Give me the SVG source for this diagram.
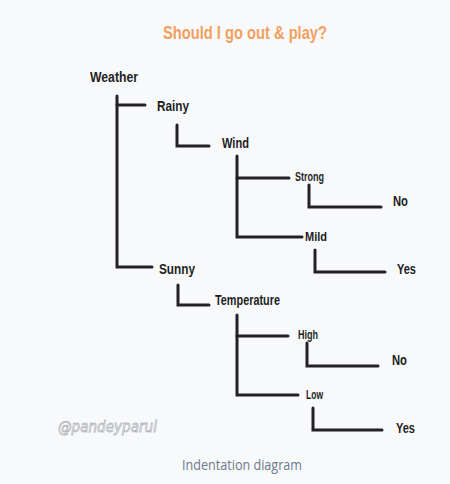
<svg xmlns="http://www.w3.org/2000/svg" width="450" height="484" viewBox="0 0 450 484">
<style>
.bg{fill:#f8f9fb}
.t{font-family:"Liberation Sans","DejaVu Sans",sans-serif;font-weight:bold;fill:#1e1e22;font-size:15px}
.s{font-size:12.5px}
.c path{fill:none;stroke:#222226;stroke-width:3;stroke-linecap:round;stroke-linejoin:miter}
.title{font-family:"Liberation Sans","DejaVu Sans",sans-serif;font-weight:bold;fill:#f2a05e;font-size:19px}
.wm{font-family:"DejaVu Sans","Liberation Sans",sans-serif;font-style:italic;font-size:16px;fill:#eef0f2;stroke:#b4b8bc;stroke-width:0.8}
.cap{font-family:"Open Sans","Liberation Sans",sans-serif;font-size:14px;fill:#6b7a8c}
</style>
<rect class="bg" x="0" y="0" width="450" height="484"/>
<text id="title" class="title" x="245" y="39" text-anchor="middle" textLength="164" lengthAdjust="spacingAndGlyphs">Should I go out &amp; play?</text>
<g class="c" id="connectors">
<path d="M117 96 V267 H152"/>
<path d="M117 105 H145"/>
<path d="M177 125 V146 H209"/>
<path d="M237 156 V237 H302"/>
<path d="M237 178 H289"/>
<path d="M309 185 V207 H381"/>
<path d="M315 250 V272 H385"/>
<path d="M178 285 V305 H209"/>
<path d="M237 315 V395 H298"/>
<path d="M237 336 H288"/>
<path d="M307 343 V366 H378"/>
<path d="M313 408 V430 H382"/>
</g>
<g id="n-weather"><text class="t" x="90" y="82" textLength="48" lengthAdjust="spacingAndGlyphs">Weather</text></g>
<g id="n-rainy"><text class="t" x="157" y="111" textLength="32" lengthAdjust="spacingAndGlyphs">Rainy</text></g>
<g id="n-wind"><text class="t" x="222" y="148" textLength="27" lengthAdjust="spacingAndGlyphs">Wind</text></g>
<g id="n-strong"><text class="t s" x="295" y="181" textLength="29" lengthAdjust="spacingAndGlyphs">Strong</text></g>
<g id="n-no1"><text class="t" x="393" y="206" textLength="15" lengthAdjust="spacingAndGlyphs">No</text></g>
<g id="n-mild"><text class="t s" x="305" y="241" textLength="22" lengthAdjust="spacingAndGlyphs">Mild</text></g>
<g id="n-yes1"><text class="t" x="397" y="274" textLength="19" lengthAdjust="spacingAndGlyphs">Yes</text></g>
<g id="n-sunny"><text class="t" x="159" y="274" textLength="36" lengthAdjust="spacingAndGlyphs">Sunny</text></g>
<g id="n-temperature"><text class="t" x="215" y="305" textLength="65" lengthAdjust="spacingAndGlyphs">Temperature</text></g>
<g id="n-high"><text class="t s" x="298" y="339" textLength="20" lengthAdjust="spacingAndGlyphs">High</text></g>
<g id="n-no2"><text class="t" x="392" y="365" textLength="15" lengthAdjust="spacingAndGlyphs">No</text></g>
<g id="n-low"><text class="t s" x="306" y="399" textLength="17" lengthAdjust="spacingAndGlyphs">Low</text></g>
<g id="n-yes2"><text class="t" x="396" y="433" textLength="19" lengthAdjust="spacingAndGlyphs">Yes</text></g>
<text class="wm" x="58" y="432" textLength="99" lengthAdjust="spacingAndGlyphs">@pandeyparul</text>
<text class="cap" x="182" y="470" textLength="120" lengthAdjust="spacingAndGlyphs">Indentation diagram</text>
</svg>
